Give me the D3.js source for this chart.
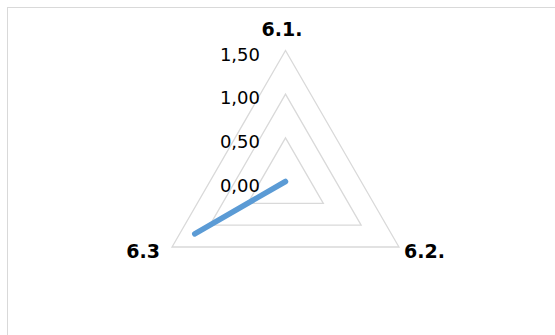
<!DOCTYPE html>
<html>
<head>
<meta charset="utf-8">
<script src="https://cdn.jsdelivr.net/npm/d3@7"></script>
<style>
  html, body { margin: 0; padding: 0; background: #fff; }
  svg { display: block; }
  text { font-family: "DejaVu Sans", sans-serif; fill: #000; }
</style>
</head>
<body>
<svg id="chart" width="555" height="335"></svg>
<script>
// Radar chart data
const categories = ["6.1.", "6.2.", "6.3"];
const seriesValues = [0, 0, 1.2];
const tickValues = [0, 0.5, 1.0, 1.5];
const tickLabels = ["0,00", "0,50", "1,00", "1,50"];

const width = 555, height = 335;
const cx = 285.5, cy = 181.5, radius = 131;

const svg = d3.select("#chart");

// chart frame
svg.append("rect")
  .attr("x", 7.5).attr("y", 7.5)
  .attr("width", width + 10).attr("height", height + 10)
  .attr("fill", "none").attr("stroke", "#d9d9d9").attr("stroke-width", 1);

const r = d3.scaleLinear().domain([0, 1.5]).range([0, radius]);
const angle = d3.scalePoint().domain(categories).range([0, 2 * Math.PI * (categories.length - 1) / categories.length]);

const pt = (cat, v) => {
  const a = angle(cat);
  return [cx + r(v) * Math.sin(a), cy - r(v) * Math.cos(a)];
};

const g = svg.append("g");

// grid triangles
tickValues.filter(t => t > 0).forEach(t => {
  g.append("path")
    .attr("d", d3.line()(categories.map(c => pt(c, t))) + "Z")
    .attr("fill", "none")
    .attr("stroke", "#d9d9d9")
    .attr("stroke-width", 1.3);
});

// tick labels along the first axis
g.selectAll("text.tick")
  .data(tickValues)
  .join("text")
  .attr("class", "tick")
  .attr("x", 260)
  .attr("y", d => cy - r(d) + 10)
  .attr("text-anchor", "end")
  .attr("font-size", 18)
  .text((d, i) => tickLabels[i]);

// series line
const linePts = categories.map((c, i) => pt(c, seriesValues[i]));
g.append("path")
  .attr("d", d3.line()(linePts) + "Z")
  .attr("fill", "none")
  .attr("stroke", "#5b9bd5")
  .attr("stroke-width", 5.5)
  .attr("stroke-linecap", "round")
  .attr("stroke-linejoin", "round");

// category labels
const labelPos = {
  "6.1.": { x: 282, y: 35.5, anchor: "middle" },
  "6.2.": { x: 404, y: 258, anchor: "start" },
  "6.3": { x: 160, y: 258, anchor: "end" }
};
g.selectAll("text.cat")
  .data(categories)
  .join("text")
  .attr("class", "cat")
  .attr("x", d => labelPos[d].x)
  .attr("y", d => labelPos[d].y)
  .attr("text-anchor", d => labelPos[d].anchor)
  .attr("font-size", 19)
  .attr("font-weight", "bold")
  .text(d => d);
</script>
</body>
</html>
